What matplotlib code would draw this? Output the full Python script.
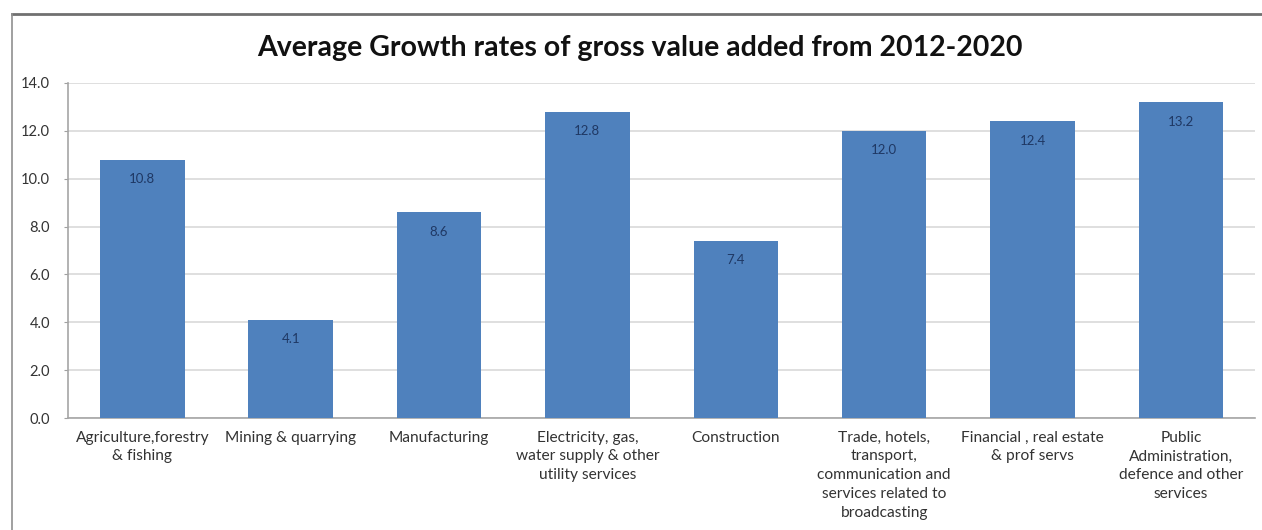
import matplotlib.pyplot as plt
from matplotlib.lines import Line2D
import numpy as np

# %% Data
sectors = ['Agriculture,forestry\n& fishing',
           'Mining & quarrying',
           'Manufacturing',
           'Electricity, gas,\nwater supply & other\nutility services',
           'Construction',
           'Trade, hotels,\ntransport,\ncommunication and\nservices related to\nbroadcasting',
           'Financial , real estate\n& prof servs',
           'Public\nAdministration,\ndefence and other\nservices']
growth = [10.8, 4.1, 8.6, 12.8, 7.4, 12.0, 12.4, 13.2]
yticks = [0, 2, 4, 6, 8, 10, 12, 14]

# %% Styles
bar_color = '#4F81BD'
label_color = '#1F3864'
grid_color = '#D9D9D9'
text_color = '#333333'
plt.rcParams['font.family'] = ['Lato', 'DejaVu Sans']

fig = plt.figure(figsize=(12.62, 5.30), dpi=100)
ax = fig.add_axes([0.054, 0.2113, 0.9405, 0.6321])

x = np.arange(len(growth))
bars = ax.bar(x, growth, width=0.57, color=bar_color, zorder=3)

for xi, v in zip(x, growth):
    ax.annotate(f'{v:.1f}', (xi, v), xytext=(0, -14), textcoords='offset points',
                ha='center', va='center', fontsize=9.5, color=label_color, zorder=4)

ax.set_xlim(-0.5, len(growth) - 0.5)
ax.set_ylim(0, 14)
ax.set_yticks(yticks)
ax.set_yticklabels([f'{t:.1f}' for t in yticks], fontsize=10.5, color=text_color)
ax.set_xticks(x)
ax.set_xticklabels(sectors, fontsize=11.2, color=text_color, linespacing=1.45)
ax.tick_params(axis='x', length=0, pad=9)
ax.tick_params(axis='y', length=3, color='#A0A0A0', pad=10)
ax.grid(axis='y', color=grid_color, lw=1.2, zorder=0)
for s in ['top', 'right']:
    ax.spines[s].set_visible(False)
for s in ['left', 'bottom']:
    ax.spines[s].set_color('#A6A6A6')
    ax.spines[s].set_linewidth(1.2)

fig.text(0.507, 0.91, 'Average Growth rates of gross value added from 2012-2020',
         ha='center', va='center', fontsize=20.5, fontweight='bold', color='#111111')

# outer chart frame (top and left edges only visible)
fig.add_artist(Line2D([0.0095, 1.0], [0.9736, 0.9736], color='#707070', lw=2))
fig.add_artist(Line2D([0.0095, 0.0095], [0.0, 0.9736], color='#909090', lw=1.2))

fig.savefig('out.png', dpi=100)
